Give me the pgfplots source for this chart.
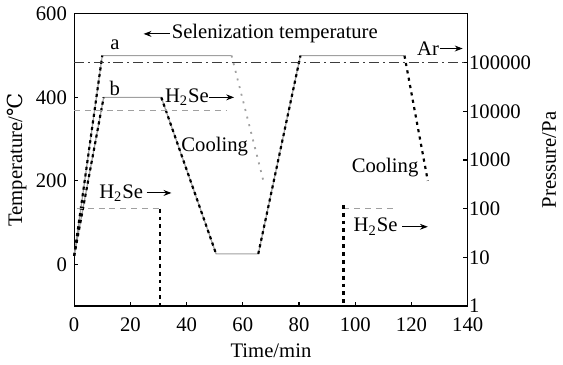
\documentclass[border=0pt]{standalone}
\usepackage{pgfplots}
\pgfplotsset{compat=1.18}
\usepackage{fontspec}
\setmainfont{Liberation Serif}
\newfontfamily\dejavu{DejaVu Serif}
\usetikzlibrary{arrows.meta}
\definecolor{lgrey}{RGB}{160,160,160}
\definecolor{dgrey}{RGB}{60,60,60}
\begin{document}
\fontsize{10.5}{12.6}\selectfont
\begin{tikzpicture}
\pgfplotsset{every axis/.append style={
  width=200pt,height=148.5pt,scale only axis,
  xmin=0,xmax=140,
  tick align=inside,
  major tick length=2.2pt,
  axis line style={line width=0.6pt},
  every tick/.style={black,line width=0.6pt},
  /pgf/number format/assume math mode=true,
  clip=false,
}}
\begin{axis}[
  ymin=-100,ymax=600,
  xtick={0,20,...,140},
  ytick={0,200,400,600},
  xtick pos=bottom, ytick pos=left,
  xlabel={Time/min},
  ylabel={Temperature/{\dejavu ℃}},
  xticklabel style={yshift=-2pt},
  xlabel style={yshift=1pt},
  ylabel style={yshift=-2.5pt},
]
% grey solid temperature profiles
\addplot[lgrey, line width=0.6pt] coordinates {(0,20) (10,500) (56,500)};
\addplot[lgrey, line width=0.6pt] coordinates {(0,20) (10.5,400) (31,400) (50.5,25) (65.5,25) (80.5,500) (117.5,500)};
% black dashed overlays
\addplot[black, line width=1.1pt, dash pattern=on 1.6pt off 1.8pt] coordinates {(0,20) (10,500)};
\addplot[black, line width=1.1pt, dash pattern=on 1.6pt off 1.8pt] coordinates {(0,20) (10.5,400)};
\addplot[black, line width=1.1pt, dash pattern=on 1.6pt off 1.8pt] coordinates {(31,400) (50.5,25)};
\addplot[black, line width=1.1pt, dash pattern=on 1.6pt off 1.8pt] coordinates {(65.5,25) (80.5,500)};
\addplot[black, line width=1.1pt, dash pattern=on 1.6pt off 2.2pt] coordinates {(117.5,500) (125.8,200)};
% grey dotted cooling of a
\addplot[lgrey, line width=0.9pt, dash pattern=on 1pt off 3pt] coordinates {(56,500) (67.5,195)};
% labels
\node at (axis cs:14.5,526) {a};
\node at (axis cs:14.5,421) {b};
\draw[-{Stealth[length=4pt,width=3pt]}, line width=0.5pt] (axis cs:34,552) -- (axis cs:24.7,552);
\node[anchor=west, inner sep=0pt] at (axis cs:34.6,552) {Selenization temperature};
\node[anchor=west, inner sep=0pt] at (axis cs:32.2,400) {H\textsubscript{2}Se};
\draw[-{Stealth[length=4pt,width=3pt]}, line width=0.5pt] (axis cs:48,400) -- (axis cs:56.9,400);
\node at (axis cs:50,281) {Cooling};
\node[anchor=west, inner sep=0pt] at (axis cs:8.8,171) {H\textsubscript{2}Se};
\draw[-{Stealth[length=4pt,width=3pt]}, line width=0.5pt] (axis cs:25.8,171) -- (axis cs:34.6,171);
\node at (axis cs:110.6,233) {Cooling};
\node[anchor=west, inner sep=0pt] at (axis cs:99.3,90) {H\textsubscript{2}Se};
\draw[-{Stealth[length=4pt,width=3pt]}, line width=0.5pt] (axis cs:116.7,90) -- (axis cs:125.8,90);
\node[anchor=west, inner sep=0pt] at (axis cs:121.9,517) {Ar};
\draw[-{Stealth[length=4pt,width=3pt]}, line width=0.5pt] (axis cs:130,517) -- (axis cs:138.2,517);
\end{axis}
\begin{axis}[
  ymode=log, ymin=1, ymax=1e6,
  hide x axis,
  axis y line*=right,
  ytick={1,10,100,1000,10000,100000},
  yticklabels={1,10,100,1000,10000,100000},
  yticklabel style={xshift=-3pt},
  yminorticks=false,
  ylabel={Pressure/Pa},
  ylabel style={yshift=1.5pt},
]
\addplot[dgrey, line width=0.6pt, dash pattern=on 5pt off 2pt on 1pt off 2pt] coordinates {(0,100000) (140,100000)};
\addplot[lgrey, line width=0.7pt, dash pattern=on 3pt off 2.5pt] coordinates {(0,10500) (54,10500)};
\addplot[lgrey, line width=0.7pt, dash pattern=on 3pt off 2.5pt] coordinates {(1,100) (30.4,100)};
\addplot[black, line width=1.1pt, dash pattern=on 2pt off 2pt] coordinates {(30.4,100) (30.4,1)};
\addplot[lgrey, line width=0.7pt, dash pattern=on 3pt off 2.5pt] coordinates {(95.8,100) (115,100)};
\addplot[black, line width=1.1pt, dash pattern=on 2pt off 2pt] coordinates {(95.8,120) (95.8,1)};
\end{axis}
\end{tikzpicture}
\end{document}
